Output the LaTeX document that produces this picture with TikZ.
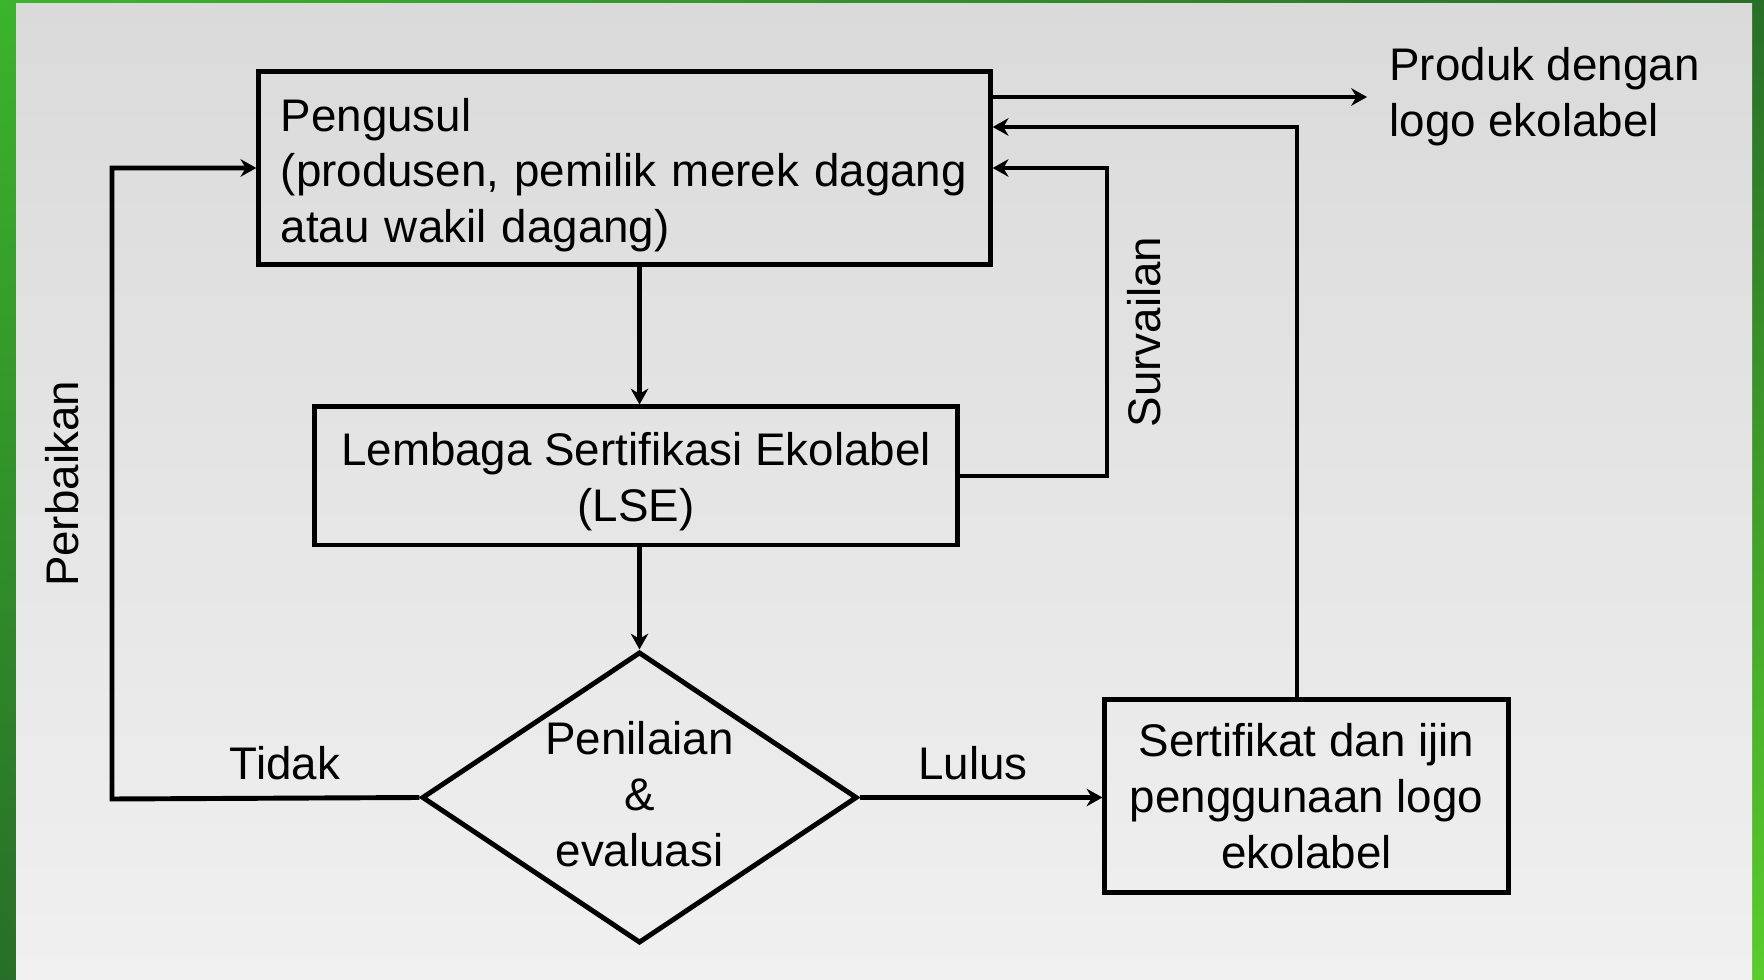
\documentclass[tikz,border=0pt]{standalone}
\usepackage{fontspec}
\setmainfont{Liberation Sans}
\usetikzlibrary{arrows.meta,shapes.geometric,shadings,positioning,calc}
\definecolor{hijauterang}{RGB}{60,180,44}
\definecolor{hijaugelap}{RGB}{40,110,40}
\definecolor{hijaumuda}{RGB}{90,205,44}
\definecolor{latasatas}{RGB}{218,218,218}
\definecolor{latasbawah}{RGB}{240,240,240}
\newcommand{\tinggi}[1]{\rule{0pt}{#1}}
\tikzset{
    kotak/.style={
        rectangle,
        draw=black,
        line width=1.4pt,
        inner sep=0pt,
        font=\fontsize{13}{15.9}\selectfont,
    },
    keputusan/.style={
        diamond,
        draw=black,
        line width=1.4pt,
        shape aspect=1.5,
        inner sep=0pt,
        align=center,
        font=\fontsize{13}{15.9}\selectfont,
    },
    label/.style={
        inner sep=0pt,
        font=\fontsize{13}{15.9}\selectfont,
    },
}

\begin{document}
\begin{tikzpicture}[x=0.01cm,y=-0.01cm,>={Stealth[length=4.5pt,width=5pt]},line width=1.4pt]
    % latar
    \shade[upper left=hijauterang,lower left=hijaugelap,upper right=hijaugelap,lower right=hijaumuda] (0,0) rectangle (1764,980);
    \shade[top color=latasatas,bottom color=latasbawah] (16,4) rectangle (1752,980);
    \useasboundingbox (0,0) rectangle (1764,980);

    \node [kotak,minimum width=7.31cm,minimum height=1.92cm,text width=6.87cm,align=left] (pengusul) at (624.5,168)
        {\tinggi{13.5pt}Pengusul\\(produsen, pemilik merek dagang\\atau wakil dagang)};
    \node [kotak,minimum width=6.43cm,minimum height=1.38cm,align=center] (lse) at (636,476)
        {\tinggi{12.7pt}Lembaga Sertifikasi Ekolabel\\(LSE)};
    \node [keputusan,minimum width=4.35cm,minimum height=2.91cm] (penilaian) at (639.5,797.5)
        {Penilaian\\\&\\evaluasi\rule[-2pt]{0pt}{0pt}};
    \node [kotak,minimum width=4.03cm,minimum height=1.92cm,align=center] (sertifikat) at (1306.5,796)
        {Sertifikat dan ijin\\penggunaan logo\\ekolabel};
    \node [label,anchor=west,align=left] (produk) at (1387,97) {Produk dengan\\logo ekolabel};

    \coordinate (kiri) at (112,799);
    \coordinate (survai) at (1107,476);
    \coordinate (balik) at (1297,127);
    \coordinate (keluar) at (1367,97);

    \draw[->] (pengusul.south -| penilaian) -- (lse.north -| penilaian);
    \draw[->] (lse.south -| penilaian) -- (penilaian.north);
    \draw[->] (penilaian.east) -- (penilaian.east -| sertifikat.west);
    \draw[->] (penilaian.west) -- (kiri) |- (pengusul.west);
    \draw[->] (lse.east) -- (survai) |- (pengusul.east);
    \draw[->] (sertifikat.north -| balik) -- (balik) -- (balik -| pengusul.east);
    \draw[->] (keluar -| pengusul.east) -- (keluar);

    \node [label] (tidak) at (285,763) {Tidak};
    \node [label] (lulus) at (973,763) {Lulus};
    \node [label,rotate=90] (survailan) at (1144,332) {Survailan};
    \node [label,rotate=90] (perbaikan) at (62,484) {Perbaikan};
\end{tikzpicture}
\end{document}
